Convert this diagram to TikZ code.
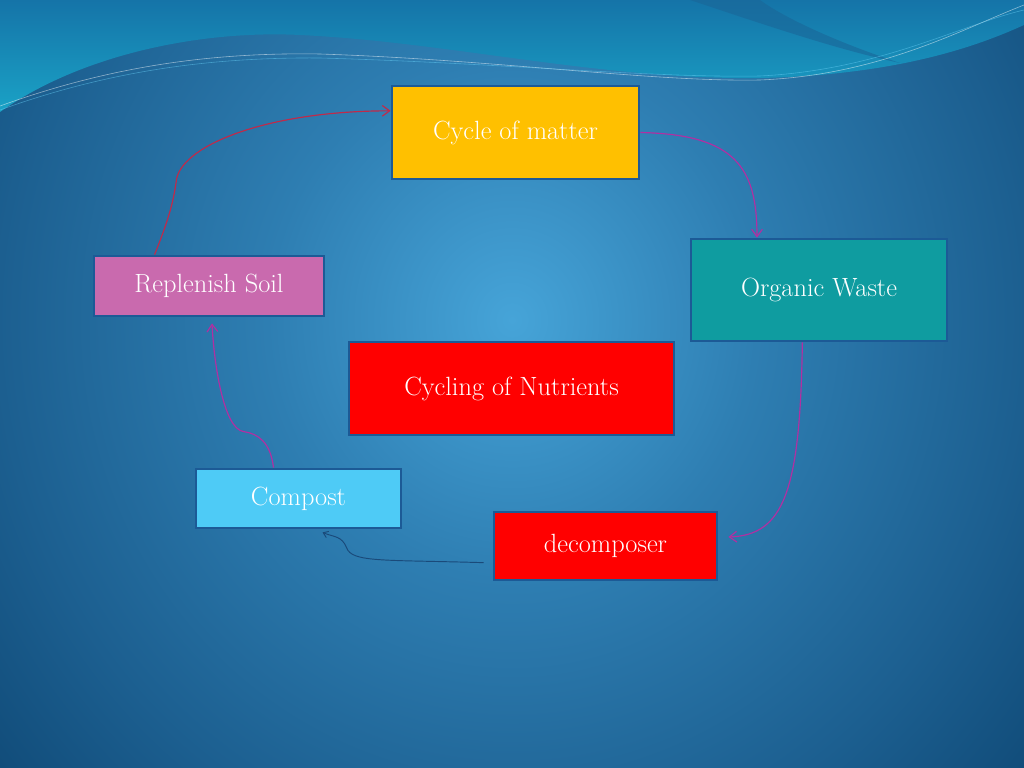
\documentclass[tikz,border=0pt]{standalone}
\usepackage{xcolor}
\usepackage{tikz}
\usetikzlibrary{positioning,arrows.meta,calc}
\definecolor{rim}{HTML}{1C5A96}
\definecolor{gold}{HTML}{FFC000}
\definecolor{teal}{HTML}{0F9CA0}
\definecolor{rose}{HTML}{C96AAE}
\definecolor{scarlet}{HTML}{FF0000}
\definecolor{sky}{HTML}{4ECBF6}
\definecolor{crimson}{HTML}{C02A4A}
\definecolor{plum}{HTML}{B22FA2}
\definecolor{navy}{HTML}{1A4A7A}
\definecolor{bgin}{HTML}{46A4D8}
\definecolor{bgmid}{HTML}{2E7EB2}
\definecolor{bgfar}{HTML}{1C5F90}
\definecolor{bgout}{HTML}{0C4470}
\definecolor{wavetop}{HTML}{1574A8}
\definecolor{wavelow}{HTML}{1AA2C6}
\definecolor{streak}{HTML}{1A6698}
\pgfdeclareradialshading{backdrop}{\pgfpoint{0bp}{0bp}}{color(0bp)=(bgin); color(10bp)=(bgmid); color(21bp)=(bgfar); color(30bp)=(bgout); color(50bp)=(bgout)}
\tikzset{
  box/.style={draw=rim, line width=2.4pt, text=white, align=center,
              inner sep=4pt, font=\fontsize{22.5}{27}\selectfont},
  flow/.style={-{Straight Barb[length=2.2mm,width=3.2mm]}, line width=1pt},
}
\begin{document}
\begin{tikzpicture}[x=0.03cm,y=-0.03cm]
  % backdrop
  \useasboundingbox (0,0) rectangle (1024,768);
  \begin{scope}
    \clip (0,0) rectangle (1024,768);
    \shade[shading=backdrop] (-100,-330) rectangle (1124,970);
    \shade[top color=wavetop, bottom color=wavelow]
      (0,112) .. controls (80,55) and (200,30) .. (300,35)
      .. controls (450,42) and (600,80) .. (760,78)
      .. controls (900,75) and (980,45) .. (1024,25)
      -- (1024,0) -- (0,0) -- cycle;
    \fill[streak, opacity=0.6] (690,0) .. controls (780,30) and (840,50) .. (900,63)
      .. controls (830,40) and (780,15) .. (760,0) -- cycle;
    \draw[white, opacity=0.5, line width=0.5pt]
      (0,106) .. controls (100,70) and (200,52) .. (320,54)
      .. controls (500,60) and (650,82) .. (760,80)
      .. controls (880,75) and (960,30) .. (1024,5);
    \draw[cyan!60, opacity=0.5, line width=0.5pt]
      (0,110) .. controls (100,74) and (200,57) .. (320,58)
      .. controls (500,63) and (650,78) .. (760,76)
      .. controls (880,70) and (960,25) .. (1024,10);
  \end{scope}

  % boxes
  \node[box, fill=gold, minimum width=7.41cm, minimum height=2.79cm] (matter) at (515.5,132.5) {Cycle of matter};
  \node[box, fill=teal, minimum width=7.68cm, minimum height=3.06cm] (waste) at (819,290) {Organic Waste};
  \node[box, fill=rose, minimum width=6.9cm, minimum height=1.8cm] (soil) at (209,286) {Replenish Soil};
  \node[box, fill=scarlet, minimum width=9.75cm, minimum height=2.79cm] (nutri) at (511.5,388.5) {Cycling of Nutrients};
  \node[box, fill=sky, minimum width=6.15cm, minimum height=1.77cm] (compost) at (298.5,498.5) {Compost};
  \node[box, fill=scarlet, minimum width=6.69cm, minimum height=2.04cm] (decomp) at (605.5,546) {decomposer};

  % cycle arrows
  \draw[flow, crimson] ([xshift=1.86cm]soil.north west)
    .. controls +(12,-30) and +(-3,25) .. ++(22,-76)
    .. controls +(8,-35) and +(-120,0) .. ([yshift=0.65cm]matter.west);
  \draw[flow, plum] (matter.east)
    .. controls +(95,2) and +(0,-70) .. ([xshift=-1.86cm]waste.north);
  \draw[flow, plum] ([xshift=-0.5cm]waste.south)
    .. controls +(-2,150) and +(55,-2) .. ([xshift=0.3cm,yshift=0.27cm]decomp.east);
  \draw[flow, navy, -{Straight Barb[length=1.4mm,width=2mm]}, line width=0.8pt] ([xshift=-0.27cm,yshift=-0.5cm]decomp.west)
    .. controls +(-100,-3) and +(5,15) .. ++(-137,-15)
    .. controls +(-5,-12) and +(12,5) .. ([xshift=0.72cm,yshift=-0.09cm]compost.south);
  \draw[flow, plum] ([xshift=-0.75cm]compost.north)
    .. controls +(-3,-25) and +(15,2) .. ++(-30,-36)
    .. controls +(-20,-3) and +(2,40) .. ([xshift=0.09cm,yshift=-0.18cm]soil.south);
\end{tikzpicture}
\end{document}
